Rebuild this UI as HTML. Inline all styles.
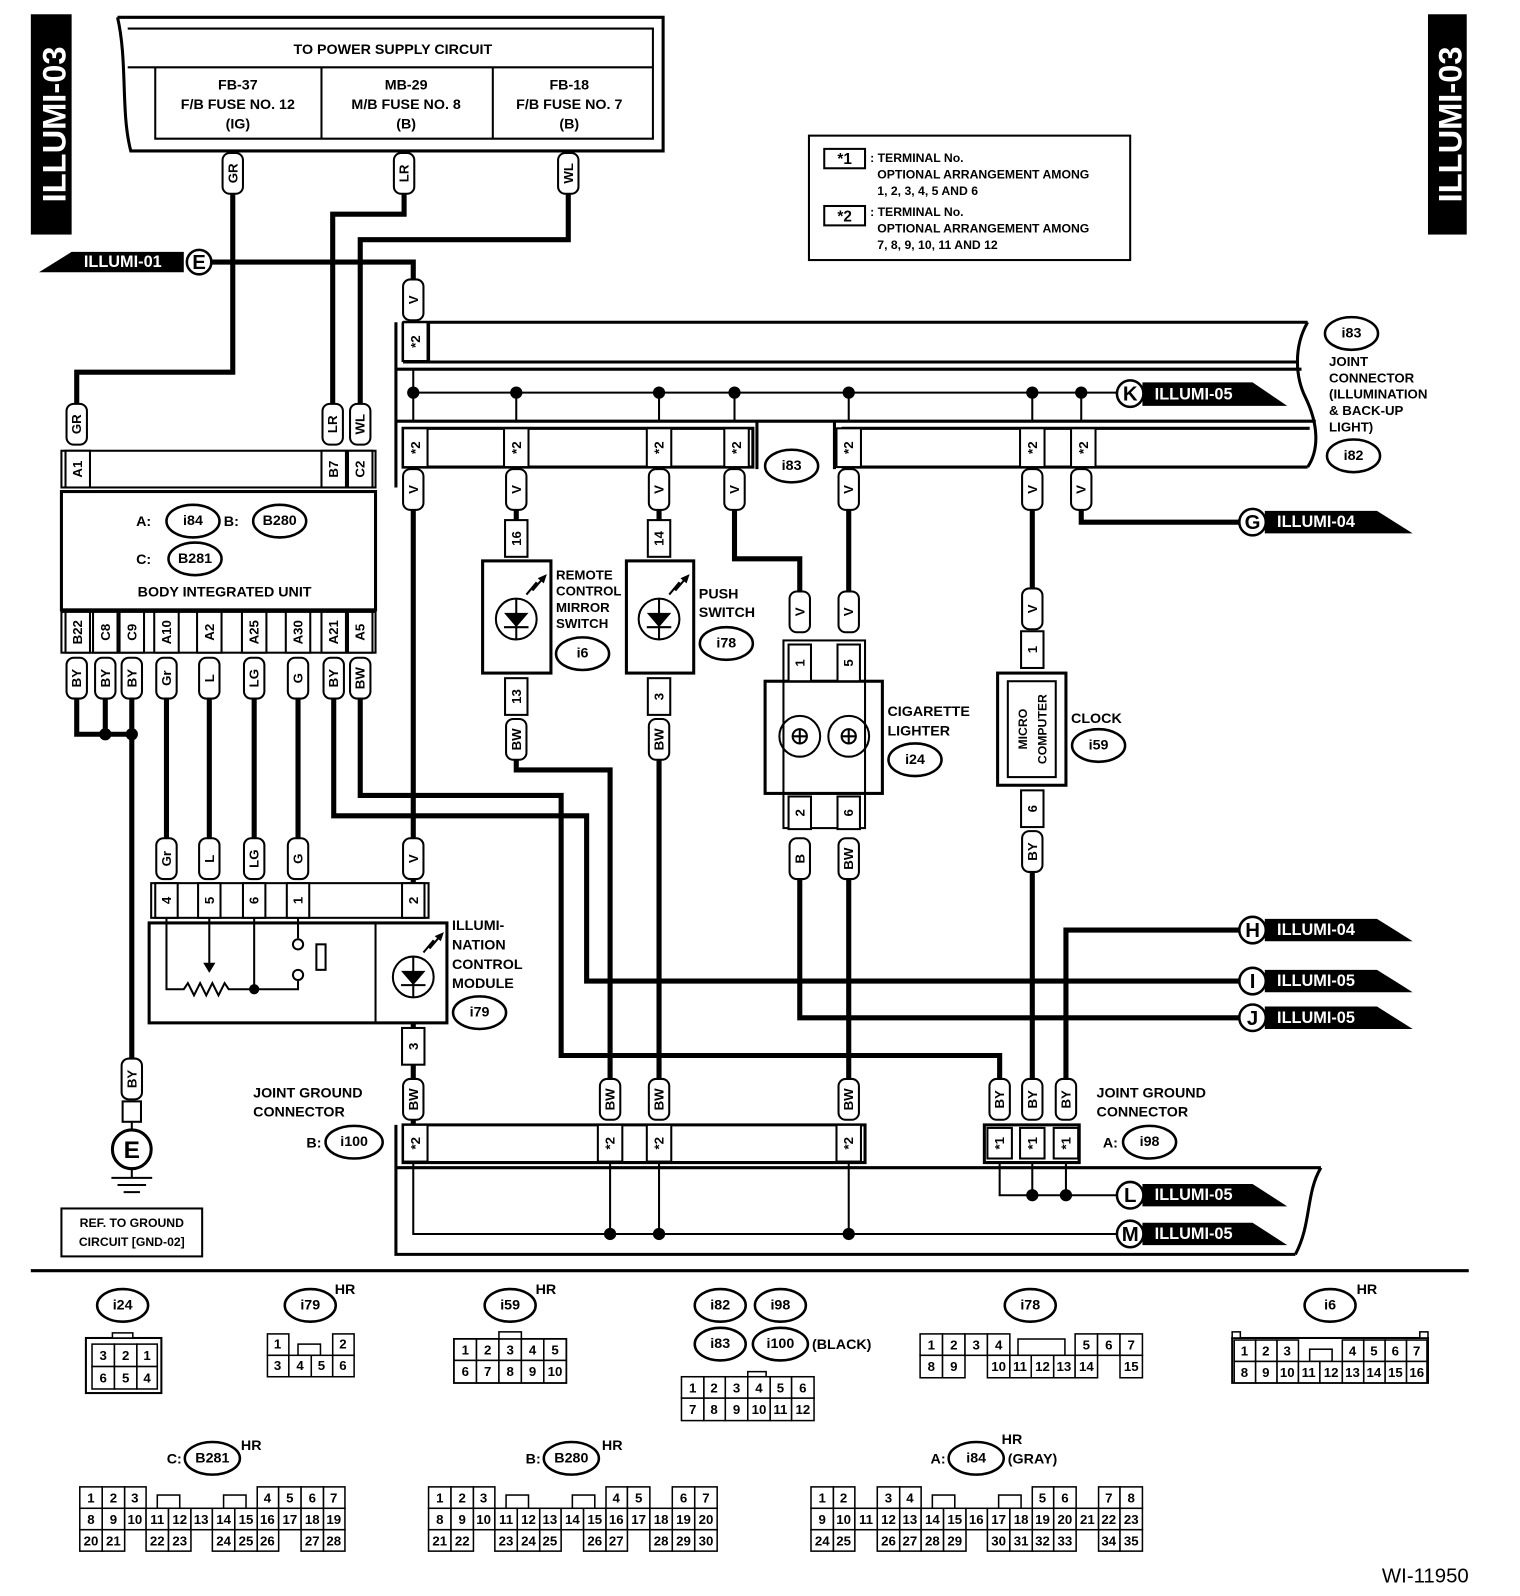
<!DOCTYPE html>
<html><head><meta charset="utf-8">
<style>
html,body{margin:0;padding:0;background:#fff}
svg{display:block}
text{font-family:"Liberation Sans",Arial,sans-serif;font-weight:bold;fill:#000}
.w{stroke:#000;stroke-width:5;fill:none}
.t{stroke:#000;stroke-width:2;fill:none}
.t3{stroke:#000;stroke-width:3;fill:none}
.p rect{fill:#fff;stroke:#000;stroke-width:2}
.p text{font-size:13px;text-anchor:middle;dominant-baseline:central}
.c rect{fill:#fff;stroke:#000;stroke-width:2}
.c text{font-size:13px;text-anchor:middle;dominant-baseline:central}
.e ellipse{fill:#fff;stroke:#000;stroke-width:2.5}
.e text{font-size:14px;text-anchor:middle;dominant-baseline:central}
.g rect{fill:#fff;stroke:#000;stroke-width:1.5}
.g text{font-size:13px;text-anchor:middle;dominant-baseline:central}
.lb{font-size:14px}
.tg text{fill:#fff;font-size:16px;font-weight:bold;dominant-baseline:central}
.tc circle{fill:#fff;stroke:#000;stroke-width:2.5}
.tc text{font-size:20px;text-anchor:middle;dominant-baseline:central}
</style></head><body>
<svg width="1520" height="1596" viewBox="0 0 1490 1565" xmlns="http://www.w3.org/2000/svg">
<rect x="0" y="0" width="1490" height="1565" fill="#fff"/>
<!-- side tabs -->
<rect x="30" y="14" width="40" height="216" fill="#000"/>
<text transform="translate(64,122) rotate(-90)" text-anchor="middle" style="font-size:32px;fill:#fff">ILLUMI-03</text>
<rect x="1400" y="14" width="38" height="216" fill="#000"/>
<text transform="translate(1433,122) rotate(-90)" text-anchor="middle" style="font-size:32px;fill:#fff">ILLUMI-03</text>

<!-- power supply box -->
<path class="t3" d="M115 17 H650 V148 H128 C118 110 125 60 115 17"/>
<path class="t" d="M125 28 H640 V136 H152 V66 M125 66 H640 M315 66 V136 M483 66 V136"/>
<text x="385" y="53" class="lb" text-anchor="middle">TO POWER SUPPLY CIRCUIT</text>
<g class="lb" text-anchor="middle">
<text x="233" y="88">FB-37</text><text x="233" y="107">F/B FUSE NO. 12</text><text x="233" y="126">(IG)</text>
<text x="398" y="88">MB-29</text><text x="398" y="107">M/B FUSE NO. 8</text><text x="398" y="126">(B)</text>
<text x="558" y="88">FB-18</text><text x="558" y="107">F/B FUSE NO. 7</text><text x="558" y="126">(B)</text>
</g>

<!-- note box -->
<rect x="793" y="133" width="315" height="122" class="t"/>
<rect x="808" y="146" width="40" height="19" class="t"/><text x="828" y="161" text-anchor="middle" style="font-size:15px">*1</text>
<rect x="808" y="202" width="40" height="19" class="t"/><text x="828" y="217" text-anchor="middle" style="font-size:15px">*2</text>
<g style="font-size:12px">
<text x="853" y="159">: TERMINAL No.</text><text x="860" y="175">OPTIONAL ARRANGEMENT AMONG</text><text x="860" y="191">1, 2, 3, 4, 5 AND 6</text>
<text x="853" y="212">: TERMINAL No.</text><text x="860" y="228">OPTIONAL ARRANGEMENT AMONG</text><text x="860" y="244">7, 8, 9, 10, 11 AND 12</text>
</g>

<!-- thick wires -->
<path class="w" d="M228 150 V365 H75 V400"/>
<path class="w" d="M396 150 V210 H326 V400"/>
<path class="w" d="M557 150 V235 H353 V400"/>
<path class="w" d="M207 257 H405 V280"/>
<path class="w" d="M405 500 V870"/>
<path class="w" d="M506 500 V512"/>
<path class="w" d="M646 500 V512"/>
<path class="w" d="M720 500 V548 H784 V585"/>
<path class="w" d="M832 500 V585"/>
<path class="w" d="M1012 500 V580"/>
<path class="w" d="M1060 500 V512 H1215"/>
<path class="w" d="M75 685 V720 H129 M103 685 V720 M129 685 V1040"/>
<path class="w" d="M163 685 V825 M205 685 V825 M249 685 V825 M292 685 V825"/>
<path class="w" d="M327 685 V800 H575 V962 H1215"/>
<path class="w" d="M353 685 V780 H550 V1035 H980 V1060"/>
<path class="w" d="M506 745 V755 H598 V1060"/>
<path class="w" d="M646 745 V1060"/>
<path class="w" d="M784 862 V998 H1215"/>
<path class="w" d="M832 862 V1060"/>
<path class="w" d="M1012 855 V1060"/>
<path class="w" d="M1045 1060 V912 H1215"/>
<path class="w" d="M405 1003 V1103"/>
<circle cx="103" cy="720" r="6"/><circle cx="129" cy="720" r="6"/>

<!-- i83/i82 joint connector frame -->
<path class="t3" d="M395 316 H1282 M395 355 H1272 M420 316 V355 M395 316 V355 M388 316 V478 M388 362 H1276 M388 413 H1290"/>
<path class="t3" d="M1282 316 C1268 340 1270 370 1280 390 C1292 415 1294 440 1282 458"/>
<path class="t3" d="M395 420 H738 V458 H395 Z M742 413 V460 M818 413 V460 M825 420 H1284 M825 458 H1282 M825 420 V458"/>
<path class="t" d="M405 385 H1095 M405 362 V413 M506 385 V413 M646 385 V413 M720 385 V413 M832 385 V413 M1012 385 V413 M1060 385 V413"/>
<g><circle cx="405" cy="385" r="6"/><circle cx="506" cy="385" r="6"/><circle cx="646" cy="385" r="6"/><circle cx="720" cy="385" r="6"/><circle cx="832" cy="385" r="6"/><circle cx="1012" cy="385" r="6"/><circle cx="1060" cy="385" r="6"/></g>

<!-- bottom joint connector frame -->
<path class="t3" d="M395 1103 H848 V1140 H395 Z M388 1103 V1230 H1270 M388 1145 H1295 M1295 1145 C1280 1170 1286 1200 1270 1230"/>
<path class="t3" d="M965 1103 H1058 V1140 H965 Z"/>
<path class="t" d="M405 1140 V1210 H1097 M598 1140 V1210 M646 1140 V1210 M832 1140 V1210 M980 1140 V1172 H1095 M1012 1140 V1172 M1045 1140 V1172"/>
<circle cx="598" cy="1210" r="6"/><circle cx="646" cy="1210" r="6"/><circle cx="832" cy="1210" r="6"/>
<circle cx="1012" cy="1172" r="6"/><circle cx="1045" cy="1172" r="6"/>

<!-- star cells -->
<g class="c">
<g transform="translate(407,335)"><rect x="-12" y="-19" width="24" height="38"/><text transform="rotate(-90)">*2</text></g>
<g transform="translate(407,439)"><rect x="-12" y="-19" width="24" height="38"/><text transform="rotate(-90)">*2</text></g>
<g transform="translate(506,439)"><rect x="-12" y="-19" width="24" height="38"/><text transform="rotate(-90)">*2</text></g>
<g transform="translate(646,439)"><rect x="-12" y="-19" width="24" height="38"/><text transform="rotate(-90)">*2</text></g>
<g transform="translate(722,439)"><rect x="-12" y="-19" width="24" height="38"/><text transform="rotate(-90)">*2</text></g>
<g transform="translate(832,439)"><rect x="-12" y="-19" width="24" height="38"/><text transform="rotate(-90)">*2</text></g>
<g transform="translate(1012,439)"><rect x="-12" y="-19" width="24" height="38"/><text transform="rotate(-90)">*2</text></g>
<g transform="translate(1062,439)"><rect x="-12" y="-19" width="24" height="38"/><text transform="rotate(-90)">*2</text></g>
<g transform="translate(407,1121)"><rect x="-12" y="-18" width="24" height="36"/><text transform="rotate(-90)">*2</text></g>
<g transform="translate(598,1121)"><rect x="-12" y="-18" width="24" height="36"/><text transform="rotate(-90)">*2</text></g>
<g transform="translate(646,1121)"><rect x="-12" y="-18" width="24" height="36"/><text transform="rotate(-90)">*2</text></g>
<g transform="translate(832,1121)"><rect x="-12" y="-18" width="24" height="36"/><text transform="rotate(-90)">*2</text></g>
<g transform="translate(980,1121)"><rect x="-12" y="-15" width="24" height="30"/><text transform="rotate(-90)">*1</text></g>
<g transform="translate(1012,1121)"><rect x="-12" y="-15" width="24" height="30"/><text transform="rotate(-90)">*1</text></g>
<g transform="translate(1045,1121)"><rect x="-12" y="-15" width="24" height="30"/><text transform="rotate(-90)">*1</text></g>
</g>

<!-- Body integrated unit -->
<rect x="60" y="442" width="308" height="36" class="t"/>
<rect x="60" y="482" width="308" height="116" class="t3"/>
<rect x="60" y="600" width="308" height="40" class="t"/>
<g class="c">
<g transform="translate(76,460)"><rect x="-12" y="-18" width="24" height="36"/><text transform="rotate(-90)">A1</text></g>
<g transform="translate(327,460)"><rect x="-12" y="-18" width="24" height="36"/><text transform="rotate(-90)">B7</text></g>
<g transform="translate(353,460)"><rect x="-12" y="-18" width="24" height="36"/><text transform="rotate(-90)">C2</text></g>
<g transform="translate(76,620)"><rect x="-12" y="-20" width="24" height="40"/><text transform="rotate(-90)">B22</text></g>
<g transform="translate(103,620)"><rect x="-12" y="-20" width="24" height="40"/><text transform="rotate(-90)">C8</text></g>
<g transform="translate(129,620)"><rect x="-12" y="-20" width="24" height="40"/><text transform="rotate(-90)">C9</text></g>
<g transform="translate(163,620)"><rect x="-12" y="-20" width="24" height="40"/><text transform="rotate(-90)">A10</text></g>
<g transform="translate(205,620)"><rect x="-12" y="-20" width="24" height="40"/><text transform="rotate(-90)">A2</text></g>
<g transform="translate(249,620)"><rect x="-12" y="-20" width="24" height="40"/><text transform="rotate(-90)">A25</text></g>
<g transform="translate(292,620)"><rect x="-12" y="-20" width="24" height="40"/><text transform="rotate(-90)">A30</text></g>
<g transform="translate(327,620)"><rect x="-12" y="-20" width="24" height="40"/><text transform="rotate(-90)">A21</text></g>
<g transform="translate(353,620)"><rect x="-12" y="-20" width="24" height="40"/><text transform="rotate(-90)">A5</text></g>
</g>
<text x="148" y="516" class="lb" text-anchor="end">A:</text>
<text x="234" y="516" class="lb" text-anchor="end">B:</text>
<text x="148" y="553" class="lb" text-anchor="end">C:</text>
<text x="220" y="585" class="lb" text-anchor="middle">BODY INTEGRATED UNIT</text>
<g class="e">
<ellipse cx="189" cy="511" rx="26" ry="16"/><text x="189" y="511">i84</text>
<ellipse cx="274" cy="511" rx="26" ry="16"/><text x="274" y="511">B280</text>
<ellipse cx="191" cy="548" rx="26" ry="16"/><text x="191" y="548">B281</text>
</g>

<!-- ground -->
<rect x="120" y="1080" width="18" height="20" class="t"/>
<path class="t" d="M129 1100 V1108"/>
<circle cx="129" cy="1127" r="19" fill="#fff" stroke="#000" stroke-width="3"/>
<text x="129" y="1128" text-anchor="middle" dominant-baseline="central" style="font-size:24px">E</text>
<path class="t" d="M129 1146 V1155 M109 1155 H149 M115 1162 H143 M121 1169 H137"/>
<rect x="60" y="1185" width="138" height="47" class="t"/>
<text x="129" y="1203" text-anchor="middle" style="font-size:12px">REF. TO GROUND</text>
<text x="129" y="1222" text-anchor="middle" style="font-size:12px">CIRCUIT [GND-02]</text>

<!-- illumination control module -->
<rect x="148" y="866" width="272" height="34" class="t"/>
<g class="c">
<g transform="translate(163,883)"><rect x="-11" y="-17" width="22" height="34"/><text transform="rotate(-90)">4</text></g>
<g transform="translate(205,883)"><rect x="-11" y="-17" width="22" height="34"/><text transform="rotate(-90)">5</text></g>
<g transform="translate(249,883)"><rect x="-11" y="-17" width="22" height="34"/><text transform="rotate(-90)">6</text></g>
<g transform="translate(292,883)"><rect x="-11" y="-17" width="22" height="34"/><text transform="rotate(-90)">1</text></g>
<g transform="translate(405,883)"><rect x="-11" y="-17" width="22" height="34"/><text transform="rotate(-90)">2</text></g>
<g transform="translate(405,1026)"><rect x="-11" y="-18" width="22" height="36"/><text transform="rotate(-90)">3</text></g>
</g>
<rect x="146" y="905" width="292" height="98" class="t3"/>
<path class="t" d="M368 905 V1003"/>
<path class="t" d="M163 900 V970 H180 l4 -6 l6 12 l6 -12 l6 12 l6 -12 l6 12 l6 -12 l4 6 H292 V962 M205 900 V950 M249 900 V970 M292 900 V920"/>
<path d="M199 944 L205 954 L211 944 Z"/>
<circle cx="249" cy="970" r="5"/>
<circle cx="292" cy="926" r="5" fill="#fff" stroke="#000" stroke-width="2"/>
<circle cx="292" cy="956" r="5" fill="#fff" stroke="#000" stroke-width="2"/>
<rect x="310" y="926" width="9" height="25" class="t"/>
<g transform="translate(405,958)">
<circle r="20" fill="#fff" stroke="#000" stroke-width="2"/>
<path class="t" d="M0 -20 V20 M-12 8 H12"/><path d="M-12 -6 H12 L0 8 Z"/>
<path class="t" d="M10 -24 L20 -36 L16 -28 L28 -42"/><path d="M30 -44 L21 -40 L27 -35Z"/>
</g>
<g class="lb"><text x="443" y="912">ILLUMI-</text><text x="443" y="931">NATION</text><text x="443" y="950">CONTROL</text><text x="443" y="969">MODULE</text></g>
<g class="e"><ellipse cx="470" cy="993" rx="26" ry="16"/><text x="470" y="993">i79</text></g>

<!-- remote control mirror switch / push switch -->
<g class="c">
<g transform="translate(506,528)"><rect x="-11" y="-18" width="22" height="36"/><text transform="rotate(-90)">16</text></g>
<g transform="translate(506,683)"><rect x="-11" y="-18" width="22" height="36"/><text transform="rotate(-90)">13</text></g>
<g transform="translate(646,528)"><rect x="-11" y="-18" width="22" height="36"/><text transform="rotate(-90)">14</text></g>
<g transform="translate(646,683)"><rect x="-11" y="-18" width="22" height="36"/><text transform="rotate(-90)">3</text></g>
</g>
<rect x="473" y="550" width="67" height="110" class="t3"/>
<rect x="614" y="550" width="66" height="110" class="t3"/>
<g transform="translate(506,607)"><circle r="20" fill="#fff" stroke="#000" stroke-width="2"/><path class="t" d="M0 -20 V20 M-12 8 H12"/><path d="M-12 -6 H12 L0 8 Z"/><path class="t" d="M10 -24 L20 -36 L16 -28 L28 -42"/><path d="M30 -44 L21 -40 L27 -35Z"/></g>
<g transform="translate(646,607)"><circle r="20" fill="#fff" stroke="#000" stroke-width="2"/><path class="t" d="M0 -20 V20 M-12 8 H12"/><path d="M-12 -6 H12 L0 8 Z"/><path class="t" d="M10 -24 L20 -36 L16 -28 L28 -42"/><path d="M30 -44 L21 -40 L27 -35Z"/></g>
<g style="font-size:13px"><text x="545" y="568">REMOTE</text><text x="545" y="584">CONTROL</text><text x="545" y="600">MIRROR</text><text x="545" y="616">SWITCH</text></g>
<g class="lb"><text x="685" y="587">PUSH</text><text x="685" y="605">SWITCH</text></g>
<g class="e"><ellipse cx="571" cy="641" rx="26" ry="16"/><text x="571" y="641">i6</text>
<ellipse cx="712" cy="631" rx="26" ry="16"/><text x="712" y="631">i78</text></g>

<!-- cigarette lighter -->
<rect x="768" y="628" width="80" height="184" class="t"/>
<rect x="750" y="668" width="115" height="110" class="t3"/>
<g class="c">
<g transform="translate(784,650)"><rect x="-11" y="-18" width="22" height="36"/><text transform="rotate(-90)">1</text></g>
<g transform="translate(832,650)"><rect x="-11" y="-18" width="22" height="36"/><text transform="rotate(-90)">5</text></g>
<g transform="translate(784,797)"><rect x="-11" y="-16" width="22" height="32"/><text transform="rotate(-90)">2</text></g>
<g transform="translate(832,797)"><rect x="-11" y="-16" width="22" height="32"/><text transform="rotate(-90)">6</text></g>
</g>
<circle cx="784" cy="722" r="20" class="t" fill="#fff"/><circle cx="784" cy="722" r="7" class="t"/><path class="t" d="M777 722 H791 M784 715 V729"/>
<circle cx="832" cy="722" r="20" class="t" fill="#fff"/><circle cx="832" cy="722" r="7" class="t"/><path class="t" d="M825 722 H839 M832 715 V729"/>
<g class="lb"><text x="870" y="702">CIGARETTE</text><text x="870" y="721">LIGHTER</text></g>
<g class="e"><ellipse cx="897" cy="745" rx="26" ry="16"/><text x="897" y="745">i24</text></g>

<!-- clock -->
<g class="c">
<g transform="translate(1012,637)"><rect x="-11" y="-18" width="22" height="36"/><text transform="rotate(-90)">1</text></g>
<g transform="translate(1012,793)"><rect x="-11" y="-18" width="22" height="36"/><text transform="rotate(-90)">6</text></g>
</g>
<rect x="978" y="660" width="67" height="110" class="t3"/>
<rect x="988" y="668" width="47" height="94" class="t"/>
<text transform="translate(1007,715) rotate(-90)" text-anchor="middle" style="font-size:12px">MICRO</text>
<text transform="translate(1026,715) rotate(-90)" text-anchor="middle" style="font-size:12px">COMPUTER</text>
<text x="1050" y="709" class="lb">CLOCK</text>
<g class="e"><ellipse cx="1077" cy="731" rx="26" ry="16"/><text x="1077" y="731">i59</text></g>

<!-- pills -->
<g class="p">
<g transform="translate(228,170)"><rect x="-10" y="-20" width="20" height="40" rx="7"/><text transform="rotate(-90)">GR</text></g>
<g transform="translate(396,170)"><rect x="-10" y="-20" width="20" height="40" rx="7"/><text transform="rotate(-90)">LR</text></g>
<g transform="translate(557,170)"><rect x="-10" y="-20" width="20" height="40" rx="7"/><text transform="rotate(-90)">WL</text></g>
<g transform="translate(75,416)"><rect x="-10" y="-20" width="20" height="40" rx="7"/><text transform="rotate(-90)">GR</text></g>
<g transform="translate(326,416)"><rect x="-10" y="-20" width="20" height="40" rx="7"/><text transform="rotate(-90)">LR</text></g>
<g transform="translate(353,416)"><rect x="-10" y="-20" width="20" height="40" rx="7"/><text transform="rotate(-90)">WL</text></g>
<g transform="translate(405,294)"><rect x="-10" y="-20" width="20" height="40" rx="7"/><text transform="rotate(-90)">V</text></g>
<g transform="translate(405,480)"><rect x="-10" y="-20" width="20" height="40" rx="7"/><text transform="rotate(-90)">V</text></g>
<g transform="translate(506,480)"><rect x="-10" y="-20" width="20" height="40" rx="7"/><text transform="rotate(-90)">V</text></g>
<g transform="translate(646,480)"><rect x="-10" y="-20" width="20" height="40" rx="7"/><text transform="rotate(-90)">V</text></g>
<g transform="translate(720,480)"><rect x="-10" y="-20" width="20" height="40" rx="7"/><text transform="rotate(-90)">V</text></g>
<g transform="translate(832,480)"><rect x="-10" y="-20" width="20" height="40" rx="7"/><text transform="rotate(-90)">V</text></g>
<g transform="translate(1012,480)"><rect x="-10" y="-20" width="20" height="40" rx="7"/><text transform="rotate(-90)">V</text></g>
<g transform="translate(1060,480)"><rect x="-10" y="-20" width="20" height="40" rx="7"/><text transform="rotate(-90)">V</text></g>
<g transform="translate(75,665)"><rect x="-10" y="-20" width="20" height="40" rx="7"/><text transform="rotate(-90)">BY</text></g>
<g transform="translate(103,665)"><rect x="-10" y="-20" width="20" height="40" rx="7"/><text transform="rotate(-90)">BY</text></g>
<g transform="translate(129,665)"><rect x="-10" y="-20" width="20" height="40" rx="7"/><text transform="rotate(-90)">BY</text></g>
<g transform="translate(163,665)"><rect x="-10" y="-20" width="20" height="40" rx="7"/><text transform="rotate(-90)">Gr</text></g>
<g transform="translate(205,665)"><rect x="-10" y="-20" width="20" height="40" rx="7"/><text transform="rotate(-90)">L</text></g>
<g transform="translate(249,665)"><rect x="-10" y="-20" width="20" height="40" rx="7"/><text transform="rotate(-90)">LG</text></g>
<g transform="translate(292,665)"><rect x="-10" y="-20" width="20" height="40" rx="7"/><text transform="rotate(-90)">G</text></g>
<g transform="translate(327,665)"><rect x="-10" y="-20" width="20" height="40" rx="7"/><text transform="rotate(-90)">BY</text></g>
<g transform="translate(353,665)"><rect x="-10" y="-20" width="20" height="40" rx="7"/><text transform="rotate(-90)">BW</text></g>
<g transform="translate(163,842)"><rect x="-10" y="-20" width="20" height="40" rx="7"/><text transform="rotate(-90)">Gr</text></g>
<g transform="translate(205,842)"><rect x="-10" y="-20" width="20" height="40" rx="7"/><text transform="rotate(-90)">L</text></g>
<g transform="translate(249,842)"><rect x="-10" y="-20" width="20" height="40" rx="7"/><text transform="rotate(-90)">LG</text></g>
<g transform="translate(292,842)"><rect x="-10" y="-20" width="20" height="40" rx="7"/><text transform="rotate(-90)">G</text></g>
<g transform="translate(405,842)"><rect x="-10" y="-20" width="20" height="40" rx="7"/><text transform="rotate(-90)">V</text></g>
<g transform="translate(129,1058)"><rect x="-10" y="-20" width="20" height="40" rx="7"/><text transform="rotate(-90)">BY</text></g>
<g transform="translate(506,725)"><rect x="-10" y="-20" width="20" height="40" rx="7"/><text transform="rotate(-90)">BW</text></g>
<g transform="translate(646,725)"><rect x="-10" y="-20" width="20" height="40" rx="7"/><text transform="rotate(-90)">BW</text></g>
<g transform="translate(784,600)"><rect x="-10" y="-20" width="20" height="40" rx="7"/><text transform="rotate(-90)">V</text></g>
<g transform="translate(832,600)"><rect x="-10" y="-20" width="20" height="40" rx="7"/><text transform="rotate(-90)">V</text></g>
<g transform="translate(1012,597)"><rect x="-10" y="-20" width="20" height="40" rx="7"/><text transform="rotate(-90)">V</text></g>
<g transform="translate(784,842)"><rect x="-10" y="-20" width="20" height="40" rx="7"/><text transform="rotate(-90)">B</text></g>
<g transform="translate(832,842)"><rect x="-10" y="-20" width="20" height="40" rx="7"/><text transform="rotate(-90)">BW</text></g>
<g transform="translate(1012,835)"><rect x="-10" y="-20" width="20" height="40" rx="7"/><text transform="rotate(-90)">BY</text></g>
<g transform="translate(405,1078)"><rect x="-10" y="-20" width="20" height="40" rx="7"/><text transform="rotate(-90)">BW</text></g>
<g transform="translate(598,1078)"><rect x="-10" y="-20" width="20" height="40" rx="7"/><text transform="rotate(-90)">BW</text></g>
<g transform="translate(646,1078)"><rect x="-10" y="-20" width="20" height="40" rx="7"/><text transform="rotate(-90)">BW</text></g>
<g transform="translate(832,1078)"><rect x="-10" y="-20" width="20" height="40" rx="7"/><text transform="rotate(-90)">BW</text></g>
<g transform="translate(980,1078)"><rect x="-10" y="-20" width="20" height="40" rx="7"/><text transform="rotate(-90)">BY</text></g>
<g transform="translate(1012,1078)"><rect x="-10" y="-20" width="20" height="40" rx="7"/><text transform="rotate(-90)">BY</text></g>
<g transform="translate(1045,1078)"><rect x="-10" y="-20" width="20" height="40" rx="7"/><text transform="rotate(-90)">BY</text></g>
</g>

<!-- joint connector labels -->
<g class="e">
<ellipse cx="776" cy="457" rx="26" ry="16"/><text x="776" y="457">i83</text>
<ellipse cx="1325" cy="327" rx="26" ry="16"/><text x="1325" y="327">i83</text>
<ellipse cx="1327" cy="447" rx="26" ry="16"/><text x="1327" y="447">i82</text>
<ellipse cx="347" cy="1120" rx="28" ry="16"/><text x="347" y="1120">i100</text>
<ellipse cx="1127" cy="1120" rx="26" ry="16"/><text x="1127" y="1120">i98</text>
</g>
<g style="font-size:13px"><text x="1303" y="359">JOINT</text><text x="1303" y="375">CONNECTOR</text><text x="1303" y="391">(ILLUMINATION</text><text x="1303" y="407">&amp; BACK-UP</text><text x="1303" y="423">LIGHT)</text></g>
<g class="lb"><text x="248" y="1076">JOINT GROUND</text><text x="248" y="1095">CONNECTOR</text><text x="315" y="1125" text-anchor="end">B:</text>
<text x="1075" y="1076">JOINT GROUND</text><text x="1075" y="1095">CONNECTOR</text><text x="1096" y="1125" text-anchor="end">A:</text></g>

<!-- tags -->
<polygon points="38,267 70,247 180,247 180,267" fill="#000"/>
<g class="tg"><text x="82" y="257">ILLUMI-01</text></g>
<g class="tc"><circle cx="195" cy="257" r="12"/><text x="195" y="258">E</text></g>
<g>
<polygon points="1120,375 1228,375 1262,398 1120,398" fill="#000"/>
<polygon points="1240,501 1350,501 1385,523 1240,523" fill="#000"/>
<polygon points="1240,901 1350,901 1385,923 1240,923" fill="#000"/>
<polygon points="1240,951 1350,951 1385,973 1240,973" fill="#000"/>
<polygon points="1240,987 1350,987 1385,1009 1240,1009" fill="#000"/>
<polygon points="1120,1161 1228,1161 1262,1183 1120,1183" fill="#000"/>
<polygon points="1120,1199 1228,1199 1262,1221 1120,1221" fill="#000"/>
</g>
<g class="tg">
<text x="1132" y="387">ILLUMI-05</text>
<text x="1252" y="512">ILLUMI-04</text>
<text x="1252" y="912">ILLUMI-04</text>
<text x="1252" y="962">ILLUMI-05</text>
<text x="1252" y="998">ILLUMI-05</text>
<text x="1132" y="1172">ILLUMI-05</text>
<text x="1132" y="1210">ILLUMI-05</text>
</g>
<g class="tc">
<circle cx="1108" cy="386" r="13"/><text x="1108" y="387">K</text>
<circle cx="1228" cy="512" r="13"/><text x="1228" y="513">G</text>
<circle cx="1228" cy="912" r="13"/><text x="1228" y="913">H</text>
<circle cx="1228" cy="962" r="13"/><text x="1228" y="963">I</text>
<circle cx="1228" cy="998" r="13"/><text x="1228" y="999">J</text>
<circle cx="1108" cy="1172" r="13"/><text x="1108" y="1173">L</text>
<circle cx="1108" cy="1210" r="13"/><text x="1108" y="1211">M</text>
</g>

<!-- divider -->
<path d="M30 1246 H1440" stroke="#000" stroke-width="3"/>

<!-- connector views -->
<g class="e">
<ellipse cx="120" cy="1280" rx="25" ry="16"/><text x="120" y="1280">i24</text>
<ellipse cx="304" cy="1280" rx="25" ry="16"/><text x="304" y="1280">i79</text>
<ellipse cx="500" cy="1280" rx="25" ry="16"/><text x="500" y="1280">i59</text>
<ellipse cx="706" cy="1280" rx="25" ry="16"/><text x="706" y="1280">i82</text>
<ellipse cx="765" cy="1280" rx="25" ry="16"/><text x="765" y="1280">i98</text>
<ellipse cx="706" cy="1318" rx="25" ry="16"/><text x="706" y="1318">i83</text>
<ellipse cx="765" cy="1318" rx="27" ry="16"/><text x="765" y="1318">i100</text>
<ellipse cx="1010" cy="1280" rx="25" ry="16"/><text x="1010" y="1280">i78</text>
<ellipse cx="1304" cy="1280" rx="25" ry="16"/><text x="1304" y="1280">i6</text>
<ellipse cx="208" cy="1430" rx="27" ry="16"/><text x="208" y="1430">B281</text>
<ellipse cx="560" cy="1430" rx="27" ry="16"/><text x="560" y="1430">B280</text>
<ellipse cx="957" cy="1430" rx="27" ry="16"/><text x="957" y="1430">i84</text>
</g>
<g style="font-size:14px">
<text x="328" y="1269">HR</text><text x="525" y="1269">HR</text><text x="1330" y="1269">HR</text>
<text x="236" y="1422">HR</text><text x="590" y="1422">HR</text><text x="982" y="1416">HR</text>
<text x="796" y="1323">(BLACK)</text><text x="988" y="1435">(GRAY)</text>
<text x="178" y="1435" text-anchor="end">C:</text><text x="530" y="1435" text-anchor="end">B:</text><text x="927" y="1435" text-anchor="end">A:</text>
</g>

<g class="g">
<!-- i24 -->
<rect x="84" y="1312" width="74" height="54" style="stroke-width:2"/>
<rect x="110" y="1307" width="20" height="5"/>
<rect x="90" y="1318" width="22" height="22"/><text x="101" y="1329">3</text>
<rect x="112" y="1318" width="22" height="22"/><text x="123" y="1329">2</text>
<rect x="134" y="1318" width="20" height="22"/><text x="144" y="1329">1</text>
<rect x="90" y="1340" width="22" height="22"/><text x="101" y="1351">6</text>
<rect x="112" y="1340" width="22" height="22"/><text x="123" y="1351">5</text>
<rect x="134" y="1340" width="20" height="22"/><text x="144" y="1351">4</text>
<!-- i79 -->
<rect x="262" y="1308" width="21" height="21"/><text x="272" y="1318">1</text>
<rect x="326" y="1308" width="21" height="21"/><text x="336" y="1318">2</text>
<rect x="292" y="1318" width="22" height="11"/>
<rect x="262" y="1329" width="21" height="21"/><text x="272" y="1339">3</text>
<rect x="283" y="1329" width="22" height="21"/><text x="294" y="1339">4</text>
<rect x="305" y="1329" width="21" height="21"/><text x="315" y="1339">5</text>
<rect x="326" y="1329" width="21" height="21"/><text x="336" y="1339">6</text>
<!-- i59 -->
<rect x="445" y="1313" width="110" height="43" style="stroke-width:2"/>
<rect x="489" y="1306" width="22" height="7"/>
<rect x="445" y="1313" width="22" height="21"/><text x="456" y="1324">1</text>
<rect x="467" y="1313" width="22" height="21"/><text x="478" y="1324">2</text>
<rect x="489" y="1313" width="22" height="21"/><text x="500" y="1324">3</text>
<rect x="511" y="1313" width="22" height="21"/><text x="522" y="1324">4</text>
<rect x="533" y="1313" width="22" height="21"/><text x="544" y="1324">5</text>
<rect x="445" y="1334" width="22" height="22"/><text x="456" y="1345">6</text>
<rect x="467" y="1334" width="22" height="22"/><text x="478" y="1345">7</text>
<rect x="489" y="1334" width="22" height="22"/><text x="500" y="1345">8</text>
<rect x="511" y="1334" width="22" height="22"/><text x="522" y="1345">9</text>
<rect x="533" y="1334" width="22" height="22"/><text x="544" y="1345">10</text>
<!-- i82 group -->
<rect x="733" y="1345" width="18" height="5"/>
<rect x="668" y="1350" width="22" height="21"/><text x="679" y="1361">1</text>
<rect x="690" y="1350" width="21" height="21"/><text x="700" y="1361">2</text>
<rect x="711" y="1350" width="22" height="21"/><text x="722" y="1361">3</text>
<rect x="733" y="1350" width="22" height="21"/><text x="744" y="1361">4</text>
<rect x="755" y="1350" width="21" height="21"/><text x="765" y="1361">5</text>
<rect x="776" y="1350" width="22" height="21"/><text x="787" y="1361">6</text>
<rect x="668" y="1371" width="22" height="22"/><text x="679" y="1382">7</text>
<rect x="690" y="1371" width="21" height="22"/><text x="700" y="1382">8</text>
<rect x="711" y="1371" width="22" height="22"/><text x="722" y="1382">9</text>
<rect x="733" y="1371" width="22" height="22"/><text x="744" y="1382">10</text>
<rect x="755" y="1371" width="21" height="22"/><text x="765" y="1382">11</text>
<rect x="776" y="1371" width="22" height="22"/><text x="787" y="1382">12</text>
<!-- i78 -->
<rect x="902" y="1308" width="22" height="21"/><text x="913" y="1319">1</text>
<rect x="924" y="1308" width="22" height="21"/><text x="935" y="1319">2</text>
<rect x="946" y="1308" width="22" height="21"/><text x="957" y="1319">3</text>
<rect x="968" y="1308" width="22" height="21"/><text x="979" y="1319">4</text>
<rect x="998" y="1313" width="46" height="16"/>
<rect x="1054" y="1308" width="22" height="21"/><text x="1065" y="1319">5</text>
<rect x="1076" y="1308" width="22" height="21"/><text x="1087" y="1319">6</text>
<rect x="1098" y="1308" width="22" height="21"/><text x="1109" y="1319">7</text>
<rect x="902" y="1329" width="22" height="22"/><text x="913" y="1340">8</text>
<rect x="924" y="1329" width="22" height="22"/><text x="935" y="1340">9</text>
<rect x="968" y="1329" width="22" height="22"/><text x="979" y="1340">10</text>
<rect x="990" y="1329" width="21" height="22"/><text x="1000" y="1340">11</text>
<rect x="1011" y="1329" width="22" height="22"/><text x="1022" y="1340">12</text>
<rect x="1033" y="1329" width="21" height="22"/><text x="1043" y="1340">13</text>
<rect x="1054" y="1329" width="22" height="22"/><text x="1065" y="1340">14</text>
<rect x="1098" y="1329" width="22" height="22"/><text x="1109" y="1340">15</text>
<!-- i6 -->
<rect x="1208" y="1312" width="192" height="44" style="stroke-width:2"/>
<rect x="1208" y="1306" width="8" height="6"/><rect x="1392" y="1306" width="8" height="6"/>
<rect x="1210" y="1314" width="21" height="21"/><text x="1220" y="1325">1</text>
<rect x="1231" y="1314" width="21" height="21"/><text x="1241" y="1325">2</text>
<rect x="1252" y="1314" width="21" height="21"/><text x="1262" y="1325">3</text>
<rect x="1284" y="1323" width="22" height="12"/>
<rect x="1316" y="1314" width="21" height="21"/><text x="1326" y="1325">4</text>
<rect x="1337" y="1314" width="21" height="21"/><text x="1347" y="1325">5</text>
<rect x="1358" y="1314" width="21" height="21"/><text x="1368" y="1325">6</text>
<rect x="1379" y="1314" width="20" height="21"/><text x="1389" y="1325">7</text>
<rect x="1210" y="1335" width="21" height="21"/><text x="1220" y="1346">8</text>
<rect x="1231" y="1335" width="21" height="21"/><text x="1241" y="1346">9</text>
<rect x="1252" y="1335" width="21" height="21"/><text x="1262" y="1346">10</text>
<rect x="1273" y="1335" width="21" height="21"/><text x="1283" y="1346">11</text>
<rect x="1294" y="1335" width="22" height="21"/><text x="1305" y="1346">12</text>
<rect x="1316" y="1335" width="21" height="21"/><text x="1326" y="1346">13</text>
<rect x="1337" y="1335" width="21" height="21"/><text x="1347" y="1346">14</text>
<rect x="1358" y="1335" width="21" height="21"/><text x="1368" y="1346">15</text>
<rect x="1379" y="1335" width="20" height="21"/><text x="1389" y="1346">16</text>
</g>

<!-- B281 -->
<g class="g" style="font-size:12px">
<rect x="78" y="1458" width="22" height="21"/><text x="89" y="1469">1</text>
<rect x="100" y="1458" width="22" height="21"/><text x="111" y="1469">2</text>
<rect x="122" y="1458" width="21" height="21"/><text x="132" y="1469">3</text>
<rect x="154" y="1466" width="22" height="13"/>
<rect x="219" y="1466" width="22" height="13"/>
<rect x="252" y="1458" width="21" height="21"/><text x="262" y="1469">4</text>
<rect x="273" y="1458" width="22" height="21"/><text x="284" y="1469">5</text>
<rect x="295" y="1458" width="22" height="21"/><text x="306" y="1469">6</text>
<rect x="317" y="1458" width="21" height="21"/><text x="327" y="1469">7</text>
<rect x="78" y="1479" width="22" height="21"/><text x="89" y="1490">8</text>
<rect x="100" y="1479" width="22" height="21"/><text x="111" y="1490">9</text>
<rect x="122" y="1479" width="21" height="21"/><text x="132" y="1490">10</text>
<rect x="143" y="1479" width="22" height="21"/><text x="154" y="1490">11</text>
<rect x="165" y="1479" width="22" height="21"/><text x="176" y="1490">12</text>
<rect x="187" y="1479" width="21" height="21"/><text x="197" y="1490">13</text>
<rect x="208" y="1479" width="22" height="21"/><text x="219" y="1490">14</text>
<rect x="230" y="1479" width="22" height="21"/><text x="241" y="1490">15</text>
<rect x="252" y="1479" width="21" height="21"/><text x="262" y="1490">16</text>
<rect x="273" y="1479" width="22" height="21"/><text x="284" y="1490">17</text>
<rect x="295" y="1479" width="22" height="21"/><text x="306" y="1490">18</text>
<rect x="317" y="1479" width="21" height="21"/><text x="327" y="1490">19</text>
<rect x="78" y="1500" width="22" height="21"/><text x="89" y="1511">20</text>
<rect x="100" y="1500" width="22" height="21"/><text x="111" y="1511">21</text>
<rect x="143" y="1500" width="22" height="21"/><text x="154" y="1511">22</text>
<rect x="165" y="1500" width="22" height="21"/><text x="176" y="1511">23</text>
<rect x="208" y="1500" width="22" height="21"/><text x="219" y="1511">24</text>
<rect x="230" y="1500" width="22" height="21"/><text x="241" y="1511">25</text>
<rect x="252" y="1500" width="21" height="21"/><text x="262" y="1511">26</text>
<rect x="295" y="1500" width="22" height="21"/><text x="306" y="1511">27</text>
<rect x="317" y="1500" width="21" height="21"/><text x="327" y="1511">28</text>
</g>
<!-- B280 -->
<g class="g" style="font-size:12px">
<rect x="420" y="1458" width="22" height="21"/><text x="431" y="1469">1</text>
<rect x="442" y="1458" width="22" height="21"/><text x="453" y="1469">2</text>
<rect x="464" y="1458" width="21" height="21"/><text x="474" y="1469">3</text>
<rect x="496" y="1466" width="22" height="13"/>
<rect x="561" y="1466" width="22" height="13"/>
<rect x="594" y="1458" width="21" height="21"/><text x="604" y="1469">4</text>
<rect x="615" y="1458" width="22" height="21"/><text x="626" y="1469">5</text>
<rect x="659" y="1458" width="22" height="21"/><text x="670" y="1469">6</text>
<rect x="681" y="1458" width="22" height="21"/><text x="692" y="1469">7</text>
<rect x="420" y="1479" width="22" height="21"/><text x="431" y="1490">8</text>
<rect x="442" y="1479" width="22" height="21"/><text x="453" y="1490">9</text>
<rect x="464" y="1479" width="21" height="21"/><text x="474" y="1490">10</text>
<rect x="485" y="1479" width="22" height="21"/><text x="496" y="1490">11</text>
<rect x="507" y="1479" width="22" height="21"/><text x="518" y="1490">12</text>
<rect x="529" y="1479" width="21" height="21"/><text x="539" y="1490">13</text>
<rect x="550" y="1479" width="22" height="21"/><text x="561" y="1490">14</text>
<rect x="572" y="1479" width="22" height="21"/><text x="583" y="1490">15</text>
<rect x="594" y="1479" width="21" height="21"/><text x="604" y="1490">16</text>
<rect x="615" y="1479" width="22" height="21"/><text x="626" y="1490">17</text>
<rect x="637" y="1479" width="22" height="21"/><text x="648" y="1490">18</text>
<rect x="659" y="1479" width="22" height="21"/><text x="670" y="1490">19</text>
<rect x="681" y="1479" width="22" height="21"/><text x="692" y="1490">20</text>
<rect x="420" y="1500" width="22" height="21"/><text x="431" y="1511">21</text>
<rect x="442" y="1500" width="22" height="21"/><text x="453" y="1511">22</text>
<rect x="485" y="1500" width="22" height="21"/><text x="496" y="1511">23</text>
<rect x="507" y="1500" width="22" height="21"/><text x="518" y="1511">24</text>
<rect x="529" y="1500" width="21" height="21"/><text x="539" y="1511">25</text>
<rect x="572" y="1500" width="22" height="21"/><text x="583" y="1511">26</text>
<rect x="594" y="1500" width="21" height="21"/><text x="604" y="1511">27</text>
<rect x="637" y="1500" width="22" height="21"/><text x="648" y="1511">28</text>
<rect x="659" y="1500" width="22" height="21"/><text x="670" y="1511">29</text>
<rect x="681" y="1500" width="22" height="21"/><text x="692" y="1511">30</text>
</g>
<!-- i84 -->
<g class="g" style="font-size:12px">
<rect x="795" y="1458" width="22" height="21"/><text x="806" y="1469">1</text>
<rect x="817" y="1458" width="21" height="21"/><text x="827" y="1469">2</text>
<rect x="860" y="1458" width="22" height="21"/><text x="871" y="1469">3</text>
<rect x="882" y="1458" width="21" height="21"/><text x="892" y="1469">4</text>
<rect x="914" y="1466" width="22" height="13"/>
<rect x="979" y="1466" width="22" height="13"/>
<rect x="1012" y="1458" width="21" height="21"/><text x="1022" y="1469">5</text>
<rect x="1033" y="1458" width="22" height="21"/><text x="1044" y="1469">6</text>
<rect x="1077" y="1458" width="21" height="21"/><text x="1087" y="1469">7</text>
<rect x="1098" y="1458" width="22" height="21"/><text x="1109" y="1469">8</text>
<rect x="795" y="1479" width="22" height="21"/><text x="806" y="1490">9</text>
<rect x="817" y="1479" width="21" height="21"/><text x="827" y="1490">10</text>
<rect x="838" y="1479" width="22" height="21"/><text x="849" y="1490">11</text>
<rect x="860" y="1479" width="22" height="21"/><text x="871" y="1490">12</text>
<rect x="882" y="1479" width="21" height="21"/><text x="892" y="1490">13</text>
<rect x="903" y="1479" width="22" height="21"/><text x="914" y="1490">14</text>
<rect x="925" y="1479" width="22" height="21"/><text x="936" y="1490">15</text>
<rect x="947" y="1479" width="21" height="21"/><text x="957" y="1490">16</text>
<rect x="968" y="1479" width="22" height="21"/><text x="979" y="1490">17</text>
<rect x="990" y="1479" width="22" height="21"/><text x="1001" y="1490">18</text>
<rect x="1012" y="1479" width="21" height="21"/><text x="1022" y="1490">19</text>
<rect x="1033" y="1479" width="22" height="21"/><text x="1044" y="1490">20</text>
<rect x="1055" y="1479" width="22" height="21"/><text x="1066" y="1490">21</text>
<rect x="1077" y="1479" width="21" height="21"/><text x="1087" y="1490">22</text>
<rect x="1098" y="1479" width="22" height="21"/><text x="1109" y="1490">23</text>
<rect x="795" y="1500" width="22" height="21"/><text x="806" y="1511">24</text>
<rect x="817" y="1500" width="21" height="21"/><text x="827" y="1511">25</text>
<rect x="860" y="1500" width="22" height="21"/><text x="871" y="1511">26</text>
<rect x="882" y="1500" width="21" height="21"/><text x="892" y="1511">27</text>
<rect x="903" y="1500" width="22" height="21"/><text x="914" y="1511">28</text>
<rect x="925" y="1500" width="22" height="21"/><text x="936" y="1511">29</text>
<rect x="968" y="1500" width="22" height="21"/><text x="979" y="1511">30</text>
<rect x="990" y="1500" width="22" height="21"/><text x="1001" y="1511">31</text>
<rect x="1012" y="1500" width="21" height="21"/><text x="1022" y="1511">32</text>
<rect x="1033" y="1500" width="22" height="21"/><text x="1044" y="1511">33</text>
<rect x="1077" y="1500" width="21" height="21"/><text x="1087" y="1511">34</text>
<rect x="1098" y="1500" width="22" height="21"/><text x="1109" y="1511">35</text>
</g>

<text x="1440" y="1552" text-anchor="end" style="font-size:20px;font-weight:normal">WI-11950</text>
</svg>
</body></html>
